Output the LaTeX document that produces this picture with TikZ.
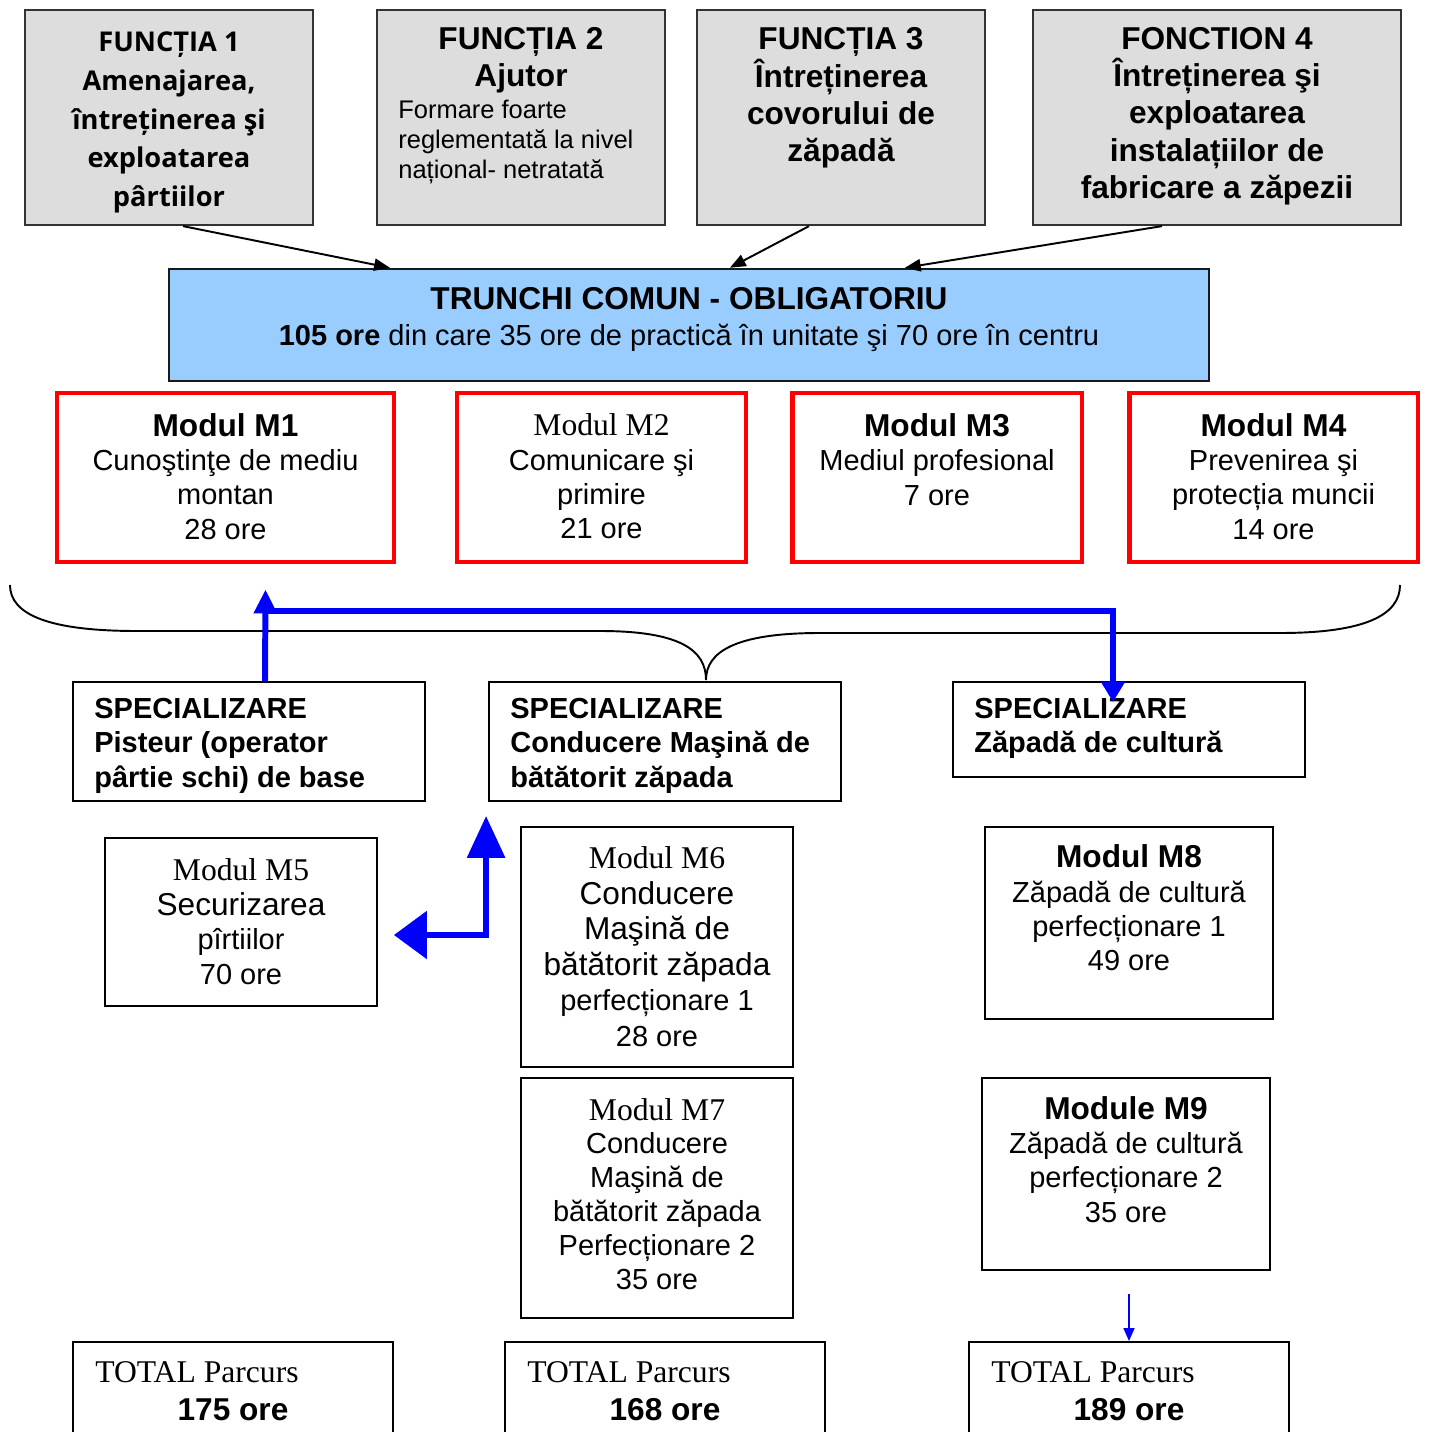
\documentclass[tikz,border=0pt]{standalone}
\usepackage{fontspec}
\setmainfont{Liberation Sans}
\newfontfamily\timesfont{Liberation Serif}
\newfontfamily\headfont{Open Sans}
\usetikzlibrary{positioning,arrows.meta,calc}
\definecolor{boxgray}{HTML}{DDDDDD}
\definecolor{trunkblue}{HTML}{99CCFF}
\definecolor{linkblue}{HTML}{0000FF}
\newcommand\modtitle[1]{{\bfseries\fontsize{18}{19.5}\selectfont #1}}
\newcommand\serifttl[1]{{\timesfont\fontsize{18}{19.5}\selectfont #1}}
\newcommand\bigtxt[1]{{\fontsize{18}{19.5}\selectfont #1}}

\begin{document}
\begin{tikzpicture}[x=0.02cm,y=-0.02cm,
  graybox/.style={draw=black!80,line width=1.3pt,fill=boxgray,inner sep=0pt},
  trunkbox/.style={draw=black!90,line width=1.4pt,fill=trunkblue,inner sep=0pt},
  redbox/.style={draw=red,line width=2.8pt,inner sep=0pt},
  plainbox/.style={draw=black,line width=1.1pt,inner sep=0pt},
  txt/.style={align=center,inner sep=0pt,font=\fontsize{16.5}{19.5}\selectfont},
  spectxt/.style={align=left,anchor=west,inner sep=0pt,font=\bfseries\fontsize{16.5}{19.6}\selectfont},
  feed/.style={line width=1.1pt,-{Triangle[length=9pt,width=7pt]}},
  bluelink/.style={draw=linkblue,line width=3.4pt}]
\clip (0,0) rectangle (1428,1432);

% functions
\node[graybox,minimum width=5.76cm,minimum height=4.3cm] (f1) at (169,117.5) {};
\node[graybox,minimum width=5.76cm,minimum height=4.3cm] (f2) at (521,117.5) {};
\node[graybox,minimum width=5.76cm,minimum height=4.3cm] (f3) at (841,117.5) {};
\node[graybox,minimum width=7.36cm,minimum height=4.3cm] (f4) at (1217,117.5) {};
\node[txt,font=\headfont\fontsize{15.5}{22}\selectfont\bfseries] (f1t) at (169,122.5)
  {FUNCȚIA 1\\Amenajarea,\\întreținerea şi\\exploatarea\\pârtiilor};
\node[txt,font=\bfseries\fontsize{18}{21}\selectfont] (f2t) at (521,60.5) {FUNCȚIA 2\\Ajutor};
\node[txt,align=left,anchor=west,font=\fontsize{14.5}{17}\selectfont] (f2s) at (398,142)
  {Formare foarte\\reglementată la nivel\\național- netratată};
\node[txt,font=\bfseries\fontsize{18}{21.2}\selectfont] (f3t) at (841,98)
  {FUNCȚIA 3\\Întreținerea\\covorului de\\zăpadă};
\node[txt,font=\bfseries\fontsize{18}{21.2}\selectfont] (f4t) at (1217,116)
  {FONCTION 4\\Întreținerea şi\\exploatarea\\instalațiilor de\\fabricare a zăpezii};

% common trunk
\node[trunkbox,minimum width=20.8cm,minimum height=2.24cm] (tc) at (689,325) {};
\node[txt,font=\fontsize{16.5}{21}\selectfont] (tct) at (689,319.5)
  {{\bfseries\fontsize{18}{21}\selectfont TRUNCHI COMUN - OBLIGATORIU}\\\textbf{105 ore} din care 35 ore de practică în unitate şi 70 ore în centru};
\draw[feed] ($(f1.south)+(14,0)$) -- ($(tc.north west)+(222,0)$);
\draw[feed] ($(f3.south)+(-32,0)$) -- ($(tc.north west)+(562,0)$);
\draw[feed] ($(f4.south)+(-55,0)$) -- ($(tc.north west)+(737,0)$);

% modules of the trunk
\node[redbox,minimum width=6.74cm,minimum height=3.38cm] (m1) at (225.5,477.5) {};
\node[redbox,minimum width=5.78cm,minimum height=3.38cm] (m2) at (601.5,477.5) {};
\node[redbox,minimum width=5.8cm,minimum height=3.38cm] (m3) at (937,477.5) {};
\node[redbox,minimum width=5.78cm,minimum height=3.38cm] (m4) at (1273.5,477.5) {};
\node[txt] (m1t) at (225.5,476.5) {\modtitle{Modul M1}\\Cunoştinţe de mediu\\montan\\28 ore};
\node[txt] (m2t) at (601.5,476.5) {\serifttl{Modul M2}\\Comunicare şi\\primire\\21 ore};
\node[txt] (m3t) at (937,459.5) {\modtitle{Modul M3}\\Mediul profesional\\7 ore};
\node[txt] (m4t) at (1273.5,476.5) {\modtitle{Modul M4}\\Prevenirea şi\\protecția muncii\\14 ore};

% brace
\draw[line width=1.1pt] (10,585) .. controls (10,615) and (50,631) .. (137,631) -- (600,631)
  .. controls (680,631) and (706,650) .. (706,680)
  .. controls (706,652) and (735,633) .. (820,633) -- (1280,633)
  .. controls (1365,633) and (1400,615) .. (1400,585);

% specialisations
\node[plainbox,minimum width=7.04cm,minimum height=2.38cm] (s1) at (249,741.5) {};
\node[plainbox,minimum width=7.04cm,minimum height=2.38cm] (s2) at (665,741.5) {};
\node[plainbox,minimum width=7.04cm,minimum height=1.9cm] (s3) at (1129,729.5) {};
\node[spectxt] (s1t) at (94,745.5) {SPECIALIZARE\\Pisteur (operator\\pârtie schi) de base};
\node[spectxt] (s2t) at (510,745.5) {SPECIALIZARE\\Conducere Maşină de\\bătătorit zăpada};
\node[spectxt] (s3t) at (974,728.5) {SPECIALIZARE\\Zăpadă de cultură};

\draw[bluelink,-{Triangle[length=13.6pt,width=12.5pt]}] ($(s1.north)+(16,0)$) -- ($(m1.south)+(40,25)$);
\draw[bluelink,-{Triangle[length=11.5pt,width=13pt]}] ($(m1.south)+(40,47)$) -| ($(s3.north)+(-16,21)$);

% specialisation modules
\node[plainbox,minimum width=5.44cm,minimum height=3.36cm] (m5) at (241,922) {};
\node[plainbox,minimum width=5.44cm,minimum height=4.8cm] (m6) at (657,947) {};
\node[plainbox,minimum width=5.44cm,minimum height=4.8cm] (m7) at (657,1198) {};
\node[plainbox,minimum width=5.76cm,minimum height=3.84cm] (m8) at (1129,923) {};
\node[plainbox,minimum width=5.76cm,minimum height=3.84cm] (m9) at (1126,1174) {};
\node[txt,font=\fontsize{16.5}{19.8}\selectfont] (m5t) at (241,921.75)
  {\serifttl{Modul M5}\\\bigtxt{Securizarea}\\pîrtiilor\\70 ore};
\node[txt,font=\fontsize{16.5}{20.2}\selectfont] (m6t) at (657,946.5)
  {\serifttl{Modul M6}\\\bigtxt{Conducere}\\\bigtxt{Maşină de}\\\bigtxt{bătătorit zăpada}\\perfecționare 1\\28 ore};
\node[txt,font=\fontsize{16.5}{19.3}\selectfont] (m7t) at (657,1194)
  {\serifttl{Modul M7}\\Conducere\\Maşină de\\bătătorit zăpada\\Perfecționare 2\\35 ore};
\node[txt] (m8t) at (1129,908) {\modtitle{Modul M8}\\Zăpadă de cultură\\perfecționare 1\\49 ore};
\node[txt] (m9t) at (1126,1159.5) {\modtitle{Module M9}\\Zăpadă de cultură\\perfecționare 2\\35 ore};

\draw[bluelink,{Triangle[length=23.8pt,width=21pt]}-{Triangle[length=18.7pt,width=26.6pt]}]
  ($(s2.south west)+(-2,14)$) |- ($(m5.east)+(16,13)$);

% totals
\node[plainbox,minimum width=6.4cm,minimum height=2.56cm] (t1) at (233,1406) {};
\node[plainbox,minimum width=6.4cm,minimum height=2.56cm] (t2) at (665,1406) {};
\node[plainbox,minimum width=6.4cm,minimum height=2.56cm] (t3) at (1129,1406) {};
\node[anchor=west,inner sep=0pt,font=\timesfont\fontsize{18}{20}\selectfont] (t1a) at (95,1372) {TOTAL Parcurs};
\node[anchor=west,inner sep=0pt,font=\timesfont\fontsize{18}{20}\selectfont] (t2a) at (527,1372) {TOTAL Parcurs};
\node[anchor=west,inner sep=0pt,font=\timesfont\fontsize{18}{20}\selectfont] (t3a) at (991,1372) {TOTAL Parcurs};
\node[inner sep=0pt,font=\bfseries\fontsize{18}{20}\selectfont] (t1b) at (233,1410) {175 ore};
\node[inner sep=0pt,font=\bfseries\fontsize{18}{20}\selectfont] (t2b) at (665,1410) {168 ore};
\node[inner sep=0pt,font=\bfseries\fontsize{18}{20}\selectfont] (t3b) at (1129,1410) {189 ore};
\draw[draw=linkblue,line width=1.1pt,-{Triangle[length=7.4pt,width=6.2pt]}] ($(m9.south)+(3,23)$) -- (t3.north);
\end{tikzpicture}
\end{document}
